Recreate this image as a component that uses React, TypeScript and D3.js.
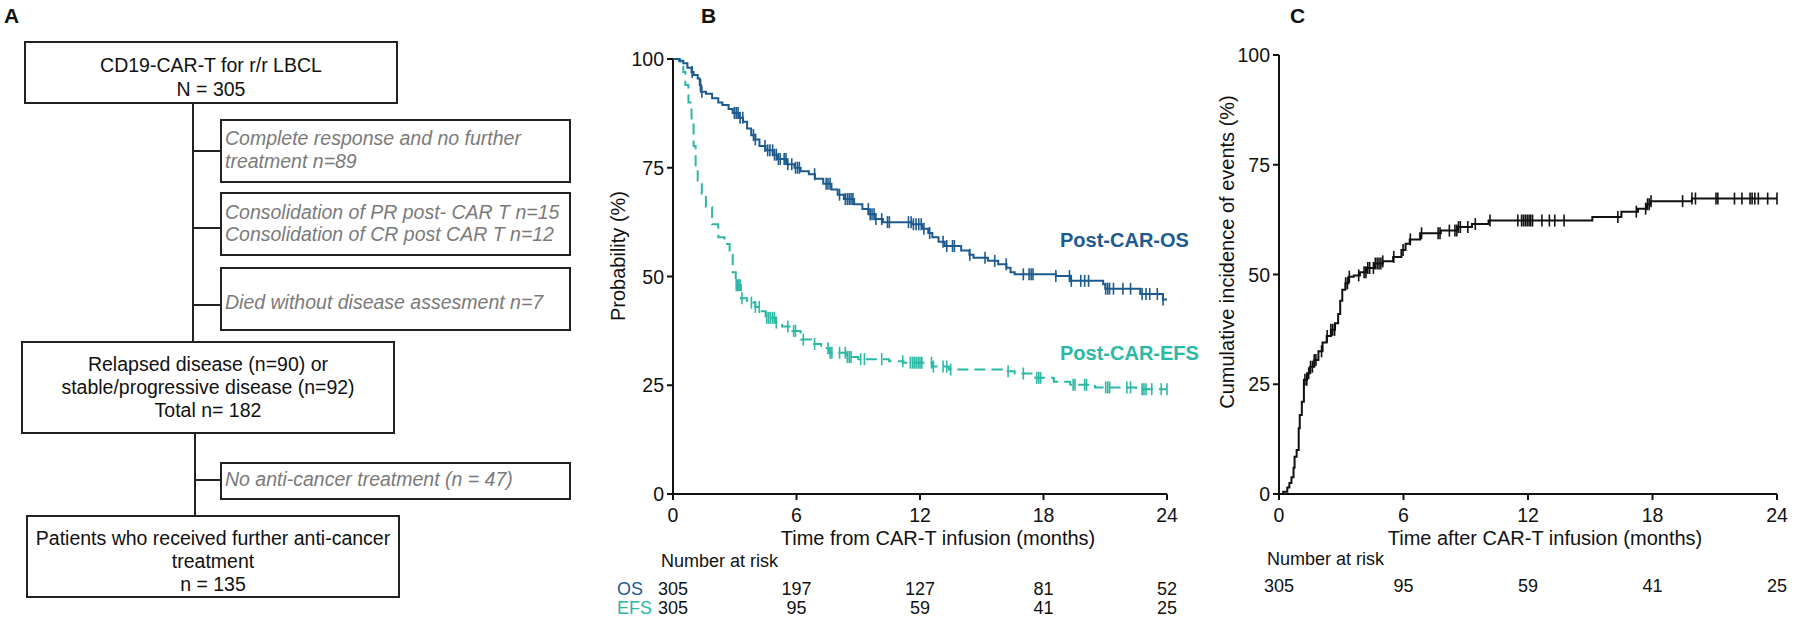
import React from "react";
import * as d3 from "d3";

// ---------------- DATA ----------------
const monthTicks = [0, 6, 12, 18, 24];
const pctTicks = [0, 25, 50, 75, 100];

// Post-CAR-OS Kaplan-Meier steps [month, %]
const osSteps: [number, number][] = [
  [0, 100], [0.3, 99.6], [0.5, 99], [0.7, 98], [0.9, 97], [1.0, 96.3], [1.2, 95.5], [1.3, 94],
  [1.35, 92.5], [1.6, 92], [1.9, 91], [2.2, 90], [2.4, 89.4], [2.7, 88.5], [2.9, 87.6], [3.2, 86.5],
  [3.4, 85.6], [3.6, 84], [3.8, 82.5], [4.0, 81.5], [4.2, 80], [4.5, 79], [4.85, 78], [5.1, 77],
  [5.5, 75.8], [5.9, 75], [6.2, 74.2], [6.6, 73.5], [6.9, 72.5], [7.3, 71.3], [7.7, 70], [8.0, 68.8],
  [8.3, 67.8], [8.8, 66.6], [9.2, 65.5], [9.5, 64.3], [9.8, 63.2], [10.2, 62.5], [11.6, 62], [12.1, 61],
  [12.4, 60], [12.6, 59], [12.9, 58], [13.2, 57], [14.0, 56], [14.4, 55], [14.6, 54.3], [15.3, 53.6],
  [15.8, 52.8], [16.2, 52], [16.4, 51], [16.6, 50.5], [18.6, 50.1], [19.3, 49], [20.9, 48.2], [21.0, 47.2],
  [22.7, 46], [23.8, 44.7],
];
const osCensor = [
  0.93, 1.34, 1.4, 2.98, 3.07, 3.16, 3.26, 3.39, 3.91, 4.0, 4.47, 4.6, 4.71, 4.84, 4.93, 5.02, 5.12, 5.21,
  5.4, 5.49, 5.58, 5.77, 5.95, 6.05, 6.14, 6.88, 7.44, 7.53, 7.63, 8.09, 8.37, 8.47, 8.56, 8.65, 8.74,
  9.49, 9.58, 9.67, 9.77, 9.86, 10.14, 10.42, 10.51, 11.44, 11.57, 11.68, 11.81, 11.94, 12.06, 12.19,
  12.47, 13.12, 13.3, 13.58, 13.67, 14.42, 15.16, 15.63, 16.19, 17.02, 17.3, 17.4, 17.49, 18.6, 19.26,
  19.35, 19.81, 20.0, 20.19, 21.02, 21.12, 21.21, 21.4, 21.86, 22.23, 22.79, 22.98, 23.16, 23.53, 23.81,
];

// Post-CAR-EFS Kaplan-Meier steps [month, %]
const efsSteps: [number, number][] = [
  [0, 100], [0.35, 99], [0.5, 97], [0.6, 94], [0.75, 90], [0.9, 86], [1.0, 80], [1.1, 75], [1.2, 72],
  [1.4, 69], [1.6, 66], [1.9, 62], [2.2, 59], [2.5, 57.5], [2.75, 55], [2.9, 51], [3.05, 48], [3.3, 45],
  [3.6, 44], [4.0, 43], [4.2, 42], [4.5, 40.5], [5.0, 39.4], [5.3, 38.5], [5.8, 37.5], [6.2, 35.5],
  [6.7, 34.5], [7.2, 33.5], [7.6, 32.5], [8.4, 31.5], [9.0, 31], [10.5, 30.5], [11.2, 30.2], [12.6, 29.3],
  [13.4, 28.6], [16.0, 28.2], [16.6, 27.7], [17.6, 26.7], [18.5, 25.8], [19.3, 25.1], [20.5, 24.5], [22.5, 24.1],
];
const efsCensor = [
  3.07, 3.13, 3.2, 3.26, 3.35, 3.81, 4.0, 4.19, 4.56, 4.65, 4.74, 4.84, 4.93, 5.02, 5.58, 5.86, 5.95, 6.33,
  6.88, 7.53, 7.63, 7.72, 8.09, 8.37, 8.47, 8.56, 8.65, 9.12, 9.3, 10.14, 11.16, 11.53, 11.63, 11.72, 11.81,
  11.91, 12.0, 12.09, 12.56, 12.65, 13.12, 13.3, 13.49, 16.28, 17.02, 17.67, 17.77, 17.86, 19.44, 19.53,
  20.0, 20.09, 21.02, 21.12, 21.21, 22.05, 22.23, 22.79, 22.88, 22.98, 23.26, 23.72, 24.0,
];

// Cumulative incidence of events [month, %]
const cifSteps: [number, number][] = [
  [0, 0], [0.2, 0.5], [0.4, 1.5], [0.5, 2.5], [0.6, 3.8], [0.7, 6], [0.75, 8.5], [0.85, 10], [0.95, 15],
  [1.0, 18], [1.1, 21], [1.2, 26], [1.35, 27.5], [1.5, 29], [1.7, 30.5], [1.9, 32.5], [2.1, 34.5], [2.3, 36],
  [2.5, 37.4], [2.7, 38.9], [2.85, 41], [2.95, 44], [3.05, 46.5], [3.2, 48], [3.35, 49.5], [3.6, 49.8],
  [3.9, 50.5], [4.2, 51.5], [4.6, 52.5], [5.0, 53], [5.5, 54], [5.9, 55.6], [6.1, 57], [6.3, 58], [6.8, 59.4],
  [7.8, 60], [8.6, 60.8], [9.3, 61.5], [10.1, 62.3], [15.1, 63.1], [16.5, 64.3], [17.3, 65], [17.7, 66],
  [17.9, 66.7], [19.9, 67.3],
];
const cifCensor = [
  1.25, 1.34, 1.43, 1.52, 1.61, 1.7, 1.78, 2.05, 2.32, 2.5, 2.59, 2.68, 3.21, 3.3, 3.39, 3.84, 4.1, 4.19,
  4.28, 4.37, 4.55, 4.64, 4.73, 4.82, 4.91, 5.0, 5.53, 5.98, 6.33, 6.87, 7.67, 7.76, 8.21, 8.48, 8.57, 8.65,
  8.74, 9.1, 9.46, 10.17, 11.51, 11.69, 11.78, 11.87, 11.96, 12.05, 12.13, 12.22, 12.67, 13.03, 13.29,
  13.74, 16.33, 17.22, 17.67, 17.76, 17.84, 17.93, 19.45, 19.9, 20.07, 21.06, 21.15, 21.95, 22.31, 22.7,
  22.8, 22.93, 23.1, 23.55, 24.0,
];

const riskOS = [305, 197, 127, 81, 52];
const riskEFS = [305, 95, 59, 41, 25];
const riskC = [305, 95, 59, 41, 25];

// Flowchart text
const mainBoxes = [
  ["CD19-CAR-T for r/r LBCL", "N = 305"],
  ["Relapsed disease (n=90) or", "stable/progressive disease (n=92)", "Total n= 182"],
  ["Patients who received further anti-cancer", "treatment", "n = 135"],
];
const sideBoxes = [
  ["Complete response and no further", "treatment n=89"],
  ["Consolidation of PR post- CAR T n=15", "Consolidation of CR post CAR T n=12"],
  ["Died without disease assesment n=7"],
  ["No anti-cancer treatment (n = 47)"],
];

// ---------------- STYLE ----------------
const FONT = "'Liberation Sans', Arial, Helvetica, sans-serif";
const OS_COLOR = "#1d5a8e";
const EFS_COLOR = "#2bb8a4";
const GRAY = "#7a7a7a";

function stepValue(steps: [number, number][], t: number) {
  let v = steps[0][1];
  for (const [s, p] of steps) {
    if (s <= t) v = p;
    else break;
  }
  return v;
}

function Axes({ x, y, yLabel, xLabel, labelX, labelY, titleShift }: any) {
  const [x0, x1] = x.range();
  const [y0, y1] = y.range();
  return (
    <g fontFamily={FONT} fill="#111">
      <line x1={x0} x2={x0} y1={y0} y2={y1} stroke="#111" strokeWidth={2} />
      <line x1={x0} x2={x1} y1={y0} y2={y0} stroke="#111" strokeWidth={2} />
      {pctTicks.map((t) => (
        <g key={"y" + t}>
          <line x1={x0 - 6} x2={x0} y1={y(t)} y2={y(t)} stroke="#111" strokeWidth={2} />
          <text x={x0 - 9} y={y(t) + 7} textAnchor="end" fontSize={19.5}>{t}</text>
        </g>
      ))}
      {monthTicks.map((t) => (
        <g key={"x" + t}>
          <line x1={x(t)} x2={x(t)} y1={y0} y2={y0 + 6} stroke="#111" strokeWidth={2} />
          <text x={x(t)} y={y0 + 28} textAnchor="middle" fontSize={19.5}>{t}</text>
        </g>
      ))}
      <text x={(x0 + x1) / 2 + titleShift} y={y0 + 51} textAnchor="middle" fontSize={20}>{xLabel}</text>
      <text transform={`translate(${labelX},${labelY}) rotate(-90)`} textAnchor="middle" fontSize={20}>{yLabel}</text>
    </g>
  );
}

function Censors({ steps, times, x, y, color }: any) {
  return (
    <g stroke={color} strokeWidth={1.6}>
      {times.map((t: number, i: number) => {
        const v = stepValue(steps, t);
        return <line key={i} x1={x(t)} x2={x(t)} y1={y(v) - 6} y2={y(v) + 6} />;
      })}
    </g>
  );
}

export default function App() {
  // Panel B scales
  const xB = d3.scaleLinear().domain([0, 24]).range([673, 1167]);
  const yB = d3.scaleLinear().domain([0, 100]).range([494, 59]);
  // Panel C scales
  const xC = d3.scaleLinear().domain([0, 24]).range([1279, 1777]);
  const yC = d3.scaleLinear().domain([0, 100]).range([494, 55]);

  const lineB = d3.line<[number, number]>().x((d) => xB(d[0])).y((d) => yB(d[1])).curve(d3.curveStepAfter);
  const lineC = d3.line<[number, number]>().x((d) => xC(d[0])).y((d) => yC(d[1])).curve(d3.curveStepAfter);
  const ext = (s: [number, number][]) => [...s, [24, s[s.length - 1][1]] as [number, number]];

  // Flowchart layout
  const mainRects = [
    { x: 25, y: 42, w: 372, h: 61, base: 72, gap: 23.5 },
    { x: 22, y: 342, w: 372, h: 91, base: 371, gap: 23 },
    { x: 27, y: 516, w: 372, h: 81, base: 545, gap: 23 },
  ];
  const sideRects = [
    { y: 120, h: 62, base: 145, conn: 151 },
    { y: 193, h: 62, base: 218.5, conn: 228 },
    { y: 268, h: 62, base: 309, conn: 305 },
    { y: 463, h: 36, base: 486, conn: 480 },
  ];
  const sideX = 221;
  const sideW = 349;

  return (
    <svg width={1800} height={622} style={{ position: "absolute", left: 0, top: 0, background: "#fff" }}>
      <rect x={0} y={0} width={1800} height={622} fill="#fff" />
      {/* Panel letters */}
      <g fontFamily={FONT} fontWeight="bold" fontSize={21} fill="#111">
        <text x={4} y={23}>A</text>
        <text x={701} y={23}>B</text>
        <text x={1290} y={23}>C</text>
      </g>

      {/* Panel A flowchart */}
      <g fontFamily={FONT}>
        <line x1={193} x2={193} y1={103} y2={342} stroke="#222" strokeWidth={2} />
        <line x1={195} x2={195} y1={433} y2={516} stroke="#222" strokeWidth={2} />
        {sideRects.map((r, i) => (
          <line key={"c" + i} x1={i < 3 ? 193 : 195} x2={sideX} y1={r.conn} y2={r.conn} stroke="#222" strokeWidth={2} />
        ))}
        {mainRects.map((r, i) => (
          <g key={"m" + i}>
            <rect x={r.x} y={r.y} width={r.w} height={r.h} fill="#fff" stroke="#222" strokeWidth={2} />
            {mainBoxes[i].map((t, j) => (
              <text key={j} x={r.x + r.w / 2} y={r.base + j * r.gap} textAnchor="middle" fontSize={19.5} fill="#111">{t}</text>
            ))}
          </g>
        ))}
        {sideRects.map((r, i) => (
          <g key={"s" + i}>
            <rect x={sideX} y={r.y} width={sideW} height={r.h} fill="#fff" stroke="#222" strokeWidth={2} />
            {sideBoxes[i].map((t, j) => (
              <text key={j} x={sideX + 4} y={r.base + j * 22.5} fontSize={19.5} fontStyle="italic" fill={GRAY}>{t}</text>
            ))}
          </g>
        ))}
      </g>

      {/* Panel B */}
      <Axes x={xB} y={yB} xLabel="Time from CAR-T infusion (months)" yLabel="Probability (%)" labelX={625} labelY={256} titleShift={18} />
      <path d={lineB(ext(efsSteps)) || ""} fill="none" stroke={EFS_COLOR} strokeWidth={2} strokeDasharray="11,6" />
      <Censors steps={efsSteps} times={efsCensor} x={xB} y={yB} color={EFS_COLOR} />
      <path d={lineB(ext(osSteps)) || ""} fill="none" stroke={OS_COLOR} strokeWidth={2} />
      <Censors steps={osSteps} times={osCensor} x={xB} y={yB} color={OS_COLOR} />
      <g fontFamily={FONT} fontWeight="bold" fontSize={20}>
        <text x={1060} y={247} fill={OS_COLOR}>Post-CAR-OS</text>
        <text x={1060} y={360} fill={EFS_COLOR}>Post-CAR-EFS</text>
      </g>
      <g fontFamily={FONT} fontSize={18} fill="#111">
        <text x={661} y={567}>Number at risk</text>
        <text x={617} y={595} fill={OS_COLOR}>OS</text>
        <text x={617} y={614} fill={EFS_COLOR}>EFS</text>
        {riskOS.map((v, i) => (
          <text key={"ro" + i} x={xB(monthTicks[i])} y={595} textAnchor="middle">{v}</text>
        ))}
        {riskEFS.map((v, i) => (
          <text key={"re" + i} x={xB(monthTicks[i])} y={614} textAnchor="middle">{v}</text>
        ))}
      </g>

      {/* Panel C */}
      <Axes x={xC} y={yC} xLabel="Time after CAR-T infusion (months)" yLabel="Cumulative incidence of events (%)" labelX={1234} labelY={252} titleShift={17} />
      <path d={lineC(ext(cifSteps)) || ""} fill="none" stroke="#111" strokeWidth={2} />
      <Censors steps={cifSteps} times={cifCensor} x={xC} y={yC} color="#111" />
      <g fontFamily={FONT} fontSize={18} fill="#111">
        <text x={1267} y={565}>Number at risk</text>
        {riskC.map((v, i) => (
          <text key={"rc" + i} x={xC(monthTicks[i])} y={592} textAnchor="middle">{v}</text>
        ))}
      </g>
    </svg>
  );
}
